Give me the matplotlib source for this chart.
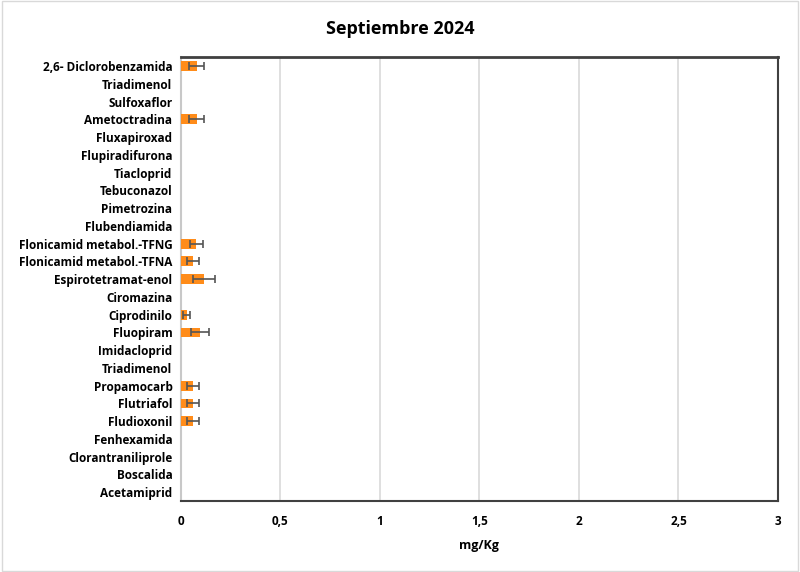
import matplotlib
matplotlib.use("Agg")
import matplotlib.pyplot as plt
import numpy as np

plt.rcParams['font.family'] = ['Open Sans', 'DejaVu Sans']

# compounds, top to bottom as shown
compuestos = ["2,6- Diclorobenzamida", "Triadimenol", "Sulfoxaflor", "Ametoctradina",
              "Fluxapiroxad", "Flupiradifurona", "Tiacloprid", "Tebuconazol",
              "Pimetrozina", "Flubendiamida", "Flonicamid metabol.-TFNG",
              "Flonicamid metabol.-TFNA", "Espirotetramat-enol", "Ciromazina",
              "Ciprodinilo", "Fluopiram", "Imidacloprid", "Triadimenol",
              "Propamocarb", "Flutriafol", "Fludioxonil", "Fenhexamida",
              "Clorantraniliprole", "Boscalida", "Acetamiprid"]
media = [0.08, 0, 0, 0.08, 0, 0, 0, 0, 0, 0, 0.078, 0.063, 0.115, 0,
         0.03, 0.095, 0, 0, 0.06, 0.062, 0.06, 0, 0, 0, 0]
error = [0.037, 0, 0, 0.037, 0, 0, 0, 0, 0, 0, 0.033, 0.03, 0.055, 0,
         0.017, 0.045, 0, 0, 0.03, 0.03, 0.03, 0, 0, 0, 0]
ticks = [0, 0.5, 1, 1.5, 2, 2.5, 3]
tick_labels = ["0", "0,5", "1", "1,5", "2", "2,5", "3"]

fig = plt.figure(figsize=(8, 5.72), dpi=100)
ax = fig.add_axes([0.226, 0.124, 0.7465, 0.776])

y = np.arange(len(compuestos))
ax.barh(y, media, height=0.55, color="#ff8c1a", zorder=3)

# error bars only where there is a measured value
idx = [i for i, e in enumerate(error) if e > 0]
ax.errorbar([media[i] for i in idx], [y[i] for i in idx],
            xerr=[error[i] for i in idx], fmt="none", ecolor="#555555",
            elinewidth=1.2, capsize=3, capthick=1.2, zorder=4)

ax.set_ylim(len(compuestos) - 0.5, -0.5)
ax.set_yticks(y)
ax.set_yticklabels(compuestos, fontsize=8.5, fontweight="bold")
ax.set_xlim(0, 3)
ax.set_xticks(ticks)
ax.set_xticklabels(tick_labels, fontsize=8.5, fontweight="bold")
ax.tick_params(length=0, pad=6)
ax.tick_params(axis="x", pad=10)
ax.xaxis.grid(True, color="#d9d9d9", linewidth=1.2, zorder=0)
ax.set_axisbelow(True)

for s in ["top", "right", "bottom"]:
    ax.spines[s].set_color("#404040")
ax.spines["top"].set_linewidth(2)
ax.spines["right"].set_linewidth(1.5)
ax.spines["bottom"].set_linewidth(1.5)
ax.spines["left"].set_color("#c8c8c8")
ax.spines["left"].set_linewidth(1.5)

ax.set_xlabel("mg/Kg", fontsize=9, fontweight="bold", labelpad=8)
fig.suptitle("Septiembre 2024", fontsize=13, fontweight="bold", y=0.965)

fig.patches.append(plt.Rectangle((0.002, 0.002), 0.996, 0.996, transform=fig.transFigure,
                                 fill=False, edgecolor="#d9d9d9", linewidth=1))

fig.savefig("out.png", dpi=100)
